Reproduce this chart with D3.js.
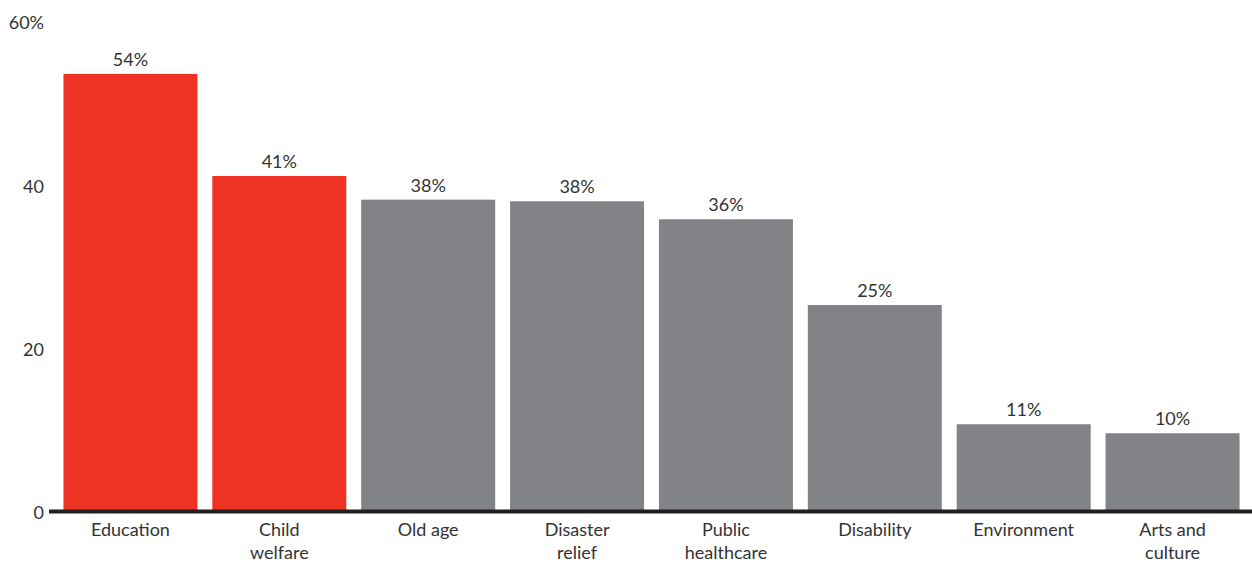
<!DOCTYPE html>
<html>
<head>
<meta charset="utf-8">
<script src="https://cdn.jsdelivr.net/npm/d3@7"></script>
<style>
  body { margin: 0; background: #fff; }
  text { font-family: "Lato", "Open Sans", sans-serif; fill: #333; }
</style>
</head>
<body>
<svg id="chart" width="1252" height="562"></svg>
<script>
const categories = ["Education", "Child\nwelfare", "Old age", "Disaster\nrelief", "Public\nhealthcare", "Disability", "Environment", "Arts and\nculture"]
const values = [53.4, 40.9, 38.0, 37.8, 35.6, 25.1, 10.5, 9.4]
const valueLabels = ["54%", "41%", "38%", "38%", "36%", "25%", "11%", "10%"]
const highlighted = [true, true, false, false, false, false, false, false]
const yTicks = [0, 20, 40, 60]

const svg = d3.select("#chart")

const x = d3.scaleBand()
    .domain(d3.range(categories.length))
    .range([56, 1247])
    .paddingInner(0.1)
    .paddingOuter(0.05)

const y = d3.scaleLinear()
    .domain([0, 60])
    .range([510, 20])

// bars
svg.append("g")
    .selectAll("rect")
    .data(values)
    .join("rect")
    .attr("x", (d, i) => x(i))
    .attr("width", x.bandwidth())
    .attr("y", d => y(d))
    .attr("height", d => y(0) - y(d))
    .attr("fill", (d, i) => highlighted[i] ? "#ee3325" : "#828387")

// value labels
svg.append("g")
    .selectAll("text")
    .data(values)
    .join("text")
    .attr("x", (d, i) => x(i) + x.bandwidth() / 2)
    .attr("y", d => y(d) - 8)
    .attr("text-anchor", "middle")
    .attr("font-size", 18)
    .text((d, i) => valueLabels[i])

// y axis labels
svg.append("g")
    .selectAll("text")
    .data(yTicks)
    .join("text")
    .attr("x", 44)
    .attr("y", d => y(d) + 3)
    .attr("dy", "0.35em")
    .attr("text-anchor", "end")
    .attr("font-size", 18)
    .text(d => d === 60 ? d + "%" : d)

// baseline
svg.append("line")
    .attr("x1", 49)
    .attr("x2", 1252)
    .attr("y1", y(0) + 1.5)
    .attr("y2", y(0) + 1.5)
    .attr("stroke", "#231f20")
    .attr("stroke-width", 4)

// category labels
const cat = svg.append("g")
    .selectAll("text")
    .data(categories)
    .join("text")
    .attr("x", (d, i) => x(i) + x.bandwidth() / 2)
    .attr("y", 530)
    .attr("text-anchor", "middle")
    .attr("font-size", 18)

cat.selectAll("tspan")
    .data(d => d.split("\n"))
    .join("tspan")
    .attr("x", function () { return this.parentNode.getAttribute("x") })
    .attr("dy", (d, i) => i === 0 ? "0.35em" : 23)
    .text(d => d)
</script>
</body>
</html>
